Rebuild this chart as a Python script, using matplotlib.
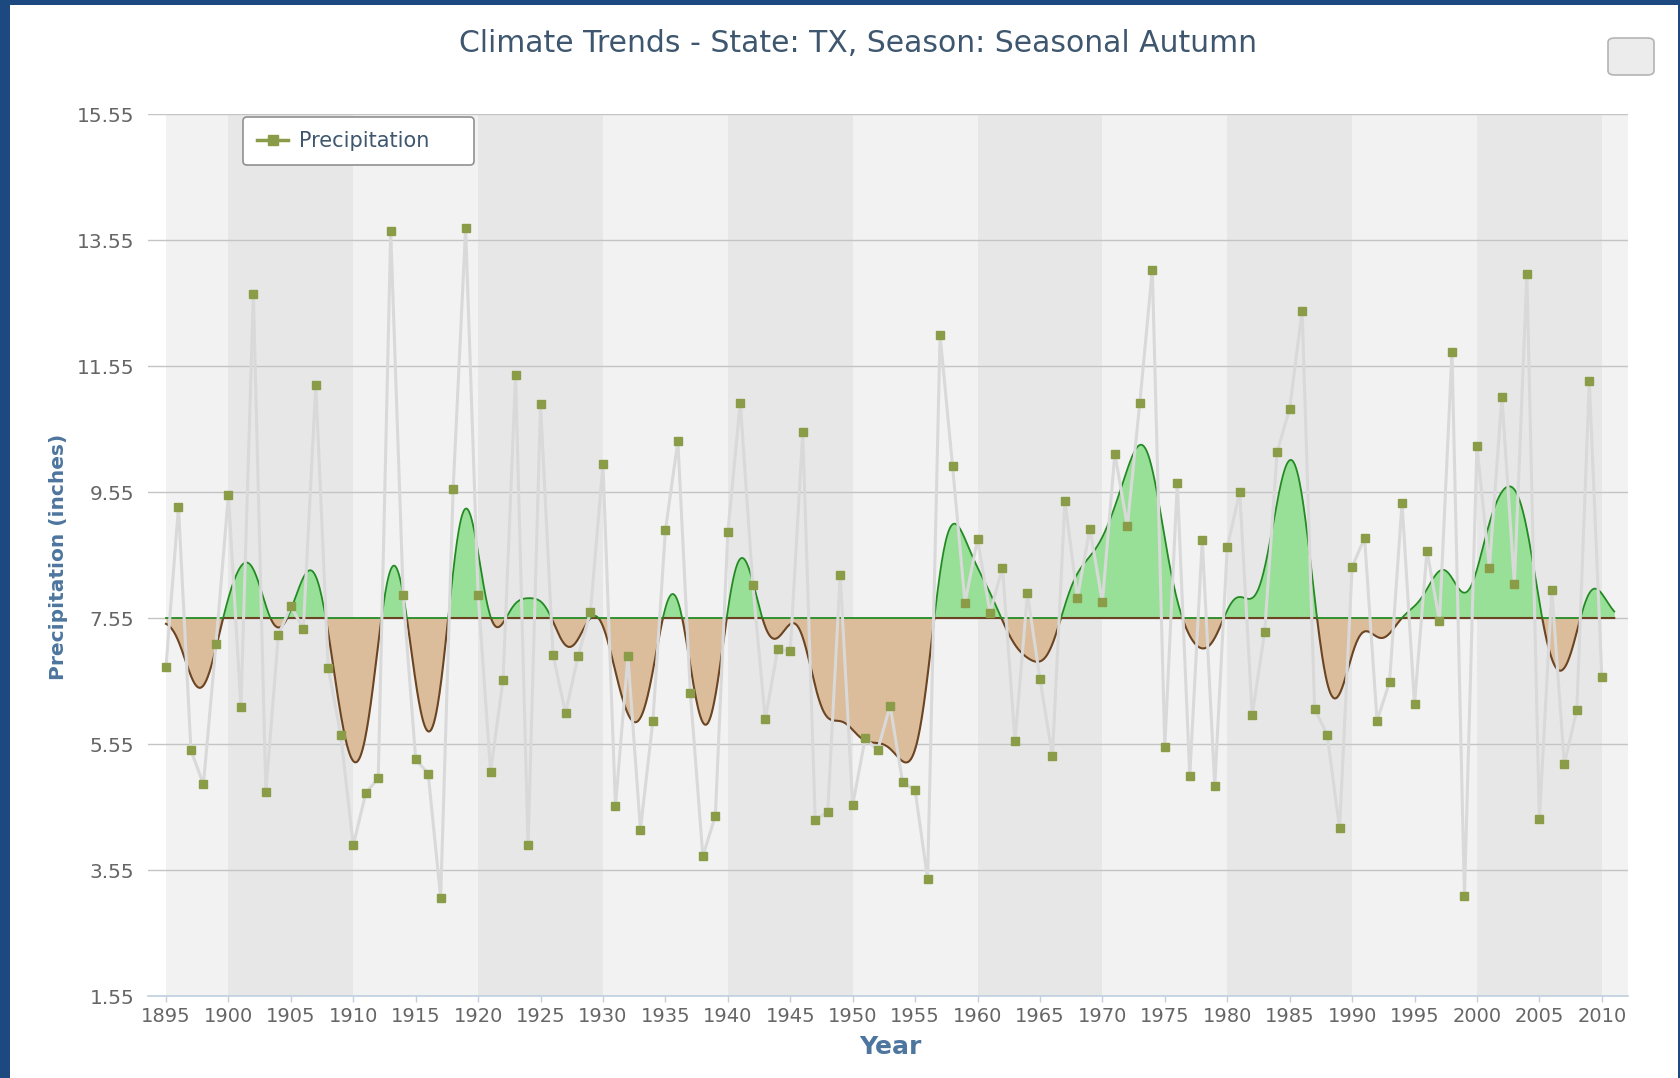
"""Climate trends, TX autumn precipitation: yearly points + smoothed anomaly fill."""
import matplotlib
matplotlib.use("Agg")
import matplotlib.pyplot as plt
import numpy as np
from matplotlib.lines import Line2D
from matplotlib.patches import Rectangle, FancyBboxPatch

years = np.arange(1895, 2011)
precip = [
    6.77, 9.31, 5.45, 4.91, 7.13, 9.50, 6.14, 12.69, 4.79, 7.28,    # 1895-1904
    7.74, 7.38, 11.25, 6.75, 5.69, 3.94, 4.77, 5.01, 13.69, 7.91,   # 1905-1914
    5.31, 5.08, 3.11, 9.60, 13.74, 7.92, 5.11, 6.57, 11.40, 3.94,   # 1915-1924
    10.94, 6.97, 6.04, 6.94, 7.65, 9.99, 4.57, 6.94, 4.19, 5.92,    # 1925-1934
    8.94, 10.36, 6.36, 3.77, 4.41, 8.91, 10.97, 8.08, 5.94, 7.06,   # 1935-1944
    7.02, 10.50, 4.35, 4.47, 8.24, 4.58, 5.64, 5.45, 6.16, 4.94,    # 1945-1954
    4.82, 3.41, 12.04, 9.96, 7.79, 8.80, 7.63, 8.35, 5.60, 7.94,    # 1955-1964
    6.58, 5.36, 9.41, 7.87, 8.97, 7.80, 10.16, 9.01, 10.97, 13.08,  # 1965-1974
    5.50, 9.70, 5.04, 8.79, 4.89, 8.67, 9.55, 6.01, 7.33, 10.19,    # 1975-1984
    10.87, 12.43, 6.11, 5.70, 4.21, 8.36, 8.82, 5.92, 6.53, 9.38,   # 1985-1994
    6.18, 8.62, 7.50, 11.77, 3.14, 10.28, 8.35, 11.06, 8.09, 13.01, # 1995-2004
    4.36, 7.99, 5.23, 6.09, 11.31, 6.62,                            # 2005-2010
]
precip = np.array(precip)
baseline = 7.55
y_ticks = np.arange(1.55, 15.56, 2.0)
x_ticks = np.arange(1895, 2011, 5)
band_edges = [1895, 1900, 1910, 1920, 1930, 1940, 1950, 1960, 1970, 1980, 1990, 2000, 2010, 2012.1]

# smoothed anomaly curve: gaussian kernel (sigma 1.3 yr), padded with the baseline
sigma = 1.3
pad_years = np.arange(1888, 2018)
pad_vals = np.full(pad_years.shape, baseline)
pad_vals[(pad_years >= 1895) & (pad_years <= 2010)] = precip
t = np.linspace(1895, 2011, 2400)
w = np.exp(-0.5 * ((t[:, None] - pad_years[None, :]) / sigma) ** 2)
smooth = (w * pad_vals).sum(axis=1) / w.sum(axis=1)
upper = np.maximum(smooth, baseline)
lower = np.minimum(smooth, baseline)

W, H = 1681, 1078
fig = plt.figure(figsize=(W / 100, H / 100), dpi=100)
fig.patch.set_facecolor("#1c4a80")
fig.patches.append(Rectangle((10 / W, 0), (1678 - 10) / W, (H - 5) / H,
                             transform=fig.transFigure, facecolor="white",
                             edgecolor="none", zorder=-5))

ax = fig.add_axes([148 / W, 1 - 996 / H, (1628 - 148) / W, (996 - 114) / H])
ax.set_facecolor("white")
ax.set_xlim(1893.56, 2012.1)
ax.set_ylim(1.55, 15.55)

for i in range(len(band_edges) - 1):
    ax.axvspan(band_edges[i], band_edges[i + 1], color="#f2f2f2" if i % 2 == 0 else "#e7e7e7",
               lw=0, zorder=0)

ax.set_yticks(y_ticks)
ax.set_yticklabels([f"{v:.2f}" for v in y_ticks])
ax.yaxis.grid(True, color="#c4c4c4", lw=1)
ax.set_axisbelow(True)
ax.set_xticks(x_ticks)
ax.tick_params(axis="y", length=0, pad=10, labelsize=14.5, labelcolor="#666666")
ax.tick_params(axis="x", length=4, width=1, color="#C0D0E0", pad=4,
               labelsize=14, labelcolor="#666666")
for s in ["top", "right", "left"]:
    ax.spines[s].set_visible(False)
ax.spines["bottom"].set_color("#C0D0E0")
ax.spines["bottom"].set_linewidth(1.2)

ax.fill_between(t, baseline, upper, color="#98e098", lw=0, zorder=2)
ax.fill_between(t, lower, baseline, color="#dbbd9b", lw=0, zorder=2)
ax.plot(t, lower, color="#6b4423", lw=1.5, zorder=3)
ax.plot(t, upper, color="#238a23", lw=1.3, zorder=3)

ax.plot(years, precip, color="#d9d9d9", lw=2.2, zorder=4)
ax.plot(years, precip, "s", color="#8a9c48", ms=6.3, zorder=5, mec="#8a9c48")

handle = Line2D([], [], color="#8a9c48", lw=2.5, marker="s", ms=6.5)
leg = ax.legend([handle], ["Precipitation"], loc="upper left",
                bbox_to_anchor=(0.064, 0.997, 0.1565, 0.0), mode="expand",
                borderaxespad=0, frameon=True, fancybox=True, fontsize=15, handlelength=1.5,
                borderpad=0.68, handletextpad=0.5, labelcolor="#3E576F")
leg.get_frame().set_edgecolor("#909090")
leg.get_frame().set_linewidth(1.2)
leg.get_frame().set_facecolor("white")
leg.get_frame().set_alpha(1)
leg.set_zorder(10)

fig.text(858 / W, 1 - 43 / H, "Climate Trends - State: TX, Season: Seasonal Autumn",
         ha="center", va="center", fontsize=21.5, color="#3E576F")
fig.text(59 / W, 1 - 557 / H, "Precipitation (inches)", rotation=90, ha="center", va="center",
         fontsize=14.5, fontweight="bold", color="#4d759e")
fig.text(890 / W, 1 - 1047 / H, "Year", ha="center", va="center",
         fontsize=18, fontweight="bold", color="#4d759e")

fig.patches.append(FancyBboxPatch((1608 / W, 1 - 75 / H), 46 / W, 37 / H,
                                  boxstyle="round,pad=0,rounding_size=0.004",
                                  transform=fig.transFigure, facecolor="#ececec",
                                  edgecolor="#b4b4b4", lw=1.2, zorder=5))

fig.savefig("out.png", dpi=100, facecolor=fig.get_facecolor())
